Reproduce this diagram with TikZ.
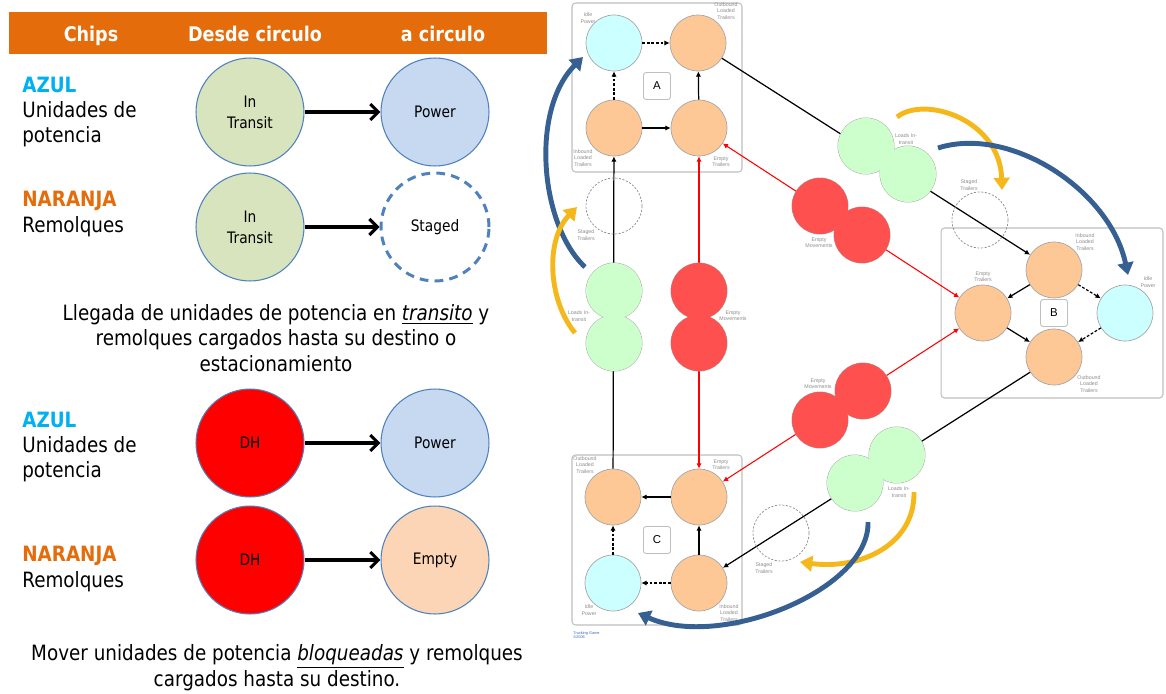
\documentclass[tikz,border=0pt]{standalone}
\usepackage{fontspec}
\setmainfont{DejaVu Sans}[FakeStretch=0.87]
\newfontfamily\tagfont{Liberation Sans}
\usetikzlibrary{arrows.meta}
\newcommand{\ulword}[1]{\smash{\underline{\textit{#1}}}}

\definecolor{hdrorange}{HTML}{E46C0A}
\definecolor{azul}{HTML}{00B0F0}
\definecolor{naranja}{HTML}{E46C0A}
\definecolor{transitgreen}{HTML}{D7E4BD}
\definecolor{powerblue}{HTML}{C6D9F1}
\definecolor{emptypeach}{HTML}{FBD5B5}
\definecolor{legendedge}{HTML}{4F81BD}
\definecolor{trailerorange}{HTML}{FDC896}
\definecolor{idlecyan}{HTML}{CCFFFF}
\definecolor{loadgreen}{HTML}{CCFFCC}
\definecolor{emptyred}{HTML}{FF5050}
\definecolor{nodeedge}{HTML}{A6A6A6}
\definecolor{framegray}{HTML}{BFBFBF}
\definecolor{taggray}{HTML}{8C8C8C}
\definecolor{curveblue}{HTML}{376092}
\definecolor{curveyellow}{HTML}{F5B81C}
\definecolor{creditblue}{HTML}{3366CC}

\begin{document}
\begin{tikzpicture}[x=0.02cm, y=-0.02cm,
    legendchip/.style={
      circle, draw=legendedge, line width=0.6pt, minimum size=2.16cm,
      inner sep=0pt, align=center, font=\fontsize{9}{12}\selectfont
    },
    stagedlegend/.style={
      legendchip, fill=white, line width=1.7pt, dash pattern=on 5pt off 3.5pt
    },
    legendmove/.style={-{Straight Barb[length=4.5pt,width=9pt]}, line width=1.8pt},
    rowtext/.style={anchor=west, align=left, inner sep=0pt, font=\fontsize{12}{14.5}\selectfont},
    notetext/.style={align=center, inner sep=0pt, font=\fontsize{12}{14.5}\selectfont},
    hdrtext/.style={anchor=base, text=white, font=\bfseries\fontsize{11.5}{13}\selectfont},
    trailer/.style={
      circle, draw=nodeedge, fill=trailerorange, line width=0.4pt,
      minimum size=1.12cm, inner sep=0pt
    },
    idle/.style={trailer, fill=idlecyan},
    staged/.style={
      circle, draw=taggray, line width=0.4pt, dash pattern=on 1.2pt off 0.9pt,
      minimum size=1.12cm, inner sep=0pt
    },
    chip/.style={circle, draw=nodeedge, line width=0.5pt, minimum size=1.12cm, inner sep=0pt},
    tag/.style={text=taggray, align=center, inner sep=0pt, font=\tagfont\fontsize{3}{3.6}\selectfont},
    boxframe/.style={draw=framegray, line width=0.6pt, rounded corners=2pt, inner sep=0pt},
    letter/.style={
      draw=framegray, fill=white, line width=0.5pt, rounded corners=1.5pt,
      minimum size=0.54cm, inner sep=0pt, font=\tagfont\fontsize{6.5}{7}\selectfont
    },
    flow/.style={-{Latex[length=3pt,width=3pt]}, line width=0.7pt},
    idleflow/.style={flow, dash pattern=on 1.6pt off 1pt},
    emptyflow/.style={{Latex[length=3pt,width=3pt]}-{Latex[length=3pt,width=3pt]}, red, line width=0.6pt},
    bigarrow/.style={line width=2.8pt, -{Triangle[length=7pt,width=9pt]}}
  ]
  \useasboundingbox (0,0) rectangle (1166,693);

  % header
  \fill[hdrorange] (9,12) rectangle (547,54);
  \node[hdrtext] (hdrChips) at (91,41) {Chips};
  \node[hdrtext] (hdrFrom) at (255,41) {Desde circulo};
  \node[hdrtext] (hdrTo) at (443,41) {a circulo};

  % arrivals in transit
  \node[rowtext] (rowPowerA) at (22,112) {\textcolor{azul}{\bfseries AZUL}\\Unidades de\\potencia};
  \node[rowtext] (rowTrailerA) at (22,214) {\textcolor{naranja}{\bfseries NARANJA}\\Remolques};
  \node[legendchip, fill=transitgreen] (lgTransitA) at (250,112) {In\\Transit};
  \node[legendchip, fill=powerblue] (lgPowerA) at (435,112) {Power};
  \node[legendchip, fill=transitgreen] (lgTransitB) at (250,227) {In\\Transit};
  \node[stagedlegend] (lgStaged) at (435,227) {Staged};
  \draw[legendmove] (lgTransitA) -- (lgPowerA);
  \draw[legendmove] (lgTransitB) -- (lgStaged);
  \node[notetext] (noteTransit) at (276,338)
    {Llegada de unidades de potencia en \ulword{transito} y\\
     remolques cargados hasta su destino o\\estacionamiento};

  % dead-head moves
  \node[rowtext] (rowPowerB) at (22,447) {\textcolor{azul}{\bfseries AZUL}\\Unidades de\\potencia};
  \node[rowtext] (rowTrailerB) at (22,569) {\textcolor{naranja}{\bfseries NARANJA}\\Remolques};
  \node[legendchip, fill=red] (lgDhA) at (250,443) {DH};
  \node[legendchip, fill=powerblue] (lgPowerB) at (435,443) {Power};
  \node[legendchip, fill=red] (lgDhB) at (250,560) {DH};
  \node[legendchip, fill=emptypeach] (lgEmpty) at (435,560) {Empty};
  \draw[legendmove] (lgDhA) -- (lgPowerB);
  \draw[legendmove] (lgDhB) -- (lgEmpty);
  \node[notetext] (noteBlocked) at (277,667.5)
    {Mover unidades de potencia \ulword{bloqueadas} y remolques\\
     cargados hasta su destino.};

  % terminals
  \node[boxframe, minimum width=3.4cm, minimum height=3.38cm] (frameA) at (657,87.5) {};
  \node[boxframe, minimum width=4.44cm, minimum height=3.4cm] (frameB) at (1052,313) {};
  \node[boxframe, minimum width=3.4cm, minimum height=3.4cm] (frameC) at (657,540) {};

  \node[idle] (idleA) at (614,43) {};
  \node[trailer] (outA) at (698,43) {};
  \node[trailer] (inA) at (614,128) {};
  \node[trailer] (emptyA) at (699,128) {};
  \node[letter] (letterA) at (657,86) {A};

  \node[trailer] (inB) at (1054,270) {};
  \node[trailer] (emptyB) at (983,313) {};
  \node[trailer] (outB) at (1054,357) {};
  \node[idle] (idleB) at (1125,313) {};
  \node[letter] (letterB) at (1054,313) {B};

  \node[trailer] (outC) at (613,497) {};
  \node[trailer] (emptyC) at (699,497) {};
  \node[idle] (idleC) at (613,583) {};
  \node[trailer] (inC) at (699,583) {};
  \node[letter] (letterC) at (657,540) {C};

  \draw[idleflow] (idleA) -- (outA);
  \draw[idleflow] (inA) -- (idleA);
  \draw[flow] (inA) -- (emptyA);
  \draw[flow] (emptyA) -- (outA);

  \draw[flow] (inB) -- (emptyB);
  \draw[flow] (emptyB) -- (outB);
  \draw[idleflow] (inB) -- (idleB);
  \draw[idleflow] (idleB) -- (outB);

  \draw[flow] (emptyC) -- (outC);
  \draw[flow] (inC) -- (emptyC);
  \draw[idleflow] (inC) -- (idleC);
  \draw[idleflow] (idleC) -- (outC);

  % moves between terminals
  \draw[flow] (outC) -- (inA);
  \draw[flow] (outA) -- (inB);
  \draw[flow] (outB) -- (inC);
  \draw[emptyflow] (emptyA) -- (emptyC);
  \draw[emptyflow] (emptyA) -- (emptyB);
  \draw[emptyflow] (emptyB) -- (emptyC);

  \node[staged] (stagedA) at (614,206) {};
  \node[staged] (stagedB) at (980,220) {};
  \node[staged] (stagedC) at (781,533) {};

  \foreach \n/\c/\p/\q in {loadsL/loadgreen/{614,291}/{614,343},
      emptyMvL/emptyred/{699,291}/{699,343},
      loadsT/loadgreen/{866,146}/{908,174},
      emptyMvT/emptyred/{820,206}/{862,235},
      emptyMvB/emptyred/{863,391}/{820,420},
      loadsB/loadgreen/{897,455}/{855,483}} {
    \node[chip, fill=\c] (\n1) at (\p) {};
    \node[chip, fill=\c] (\n2) at (\q) {};
    \fill[\c] (\n1.center) circle (0.56cm) (\n2.center) circle (0.56cm);
  }

  % labels
  \node[tag] (tagIdleA) at (588,18) {Idle\\Power};
  \node[tag] (tagOutA) at (726,11) {Outbound\\Loaded\\Trailers};
  \node[tag] (tagInA) at (583,158) {Inbound\\Loaded\\Trailers};
  \node[tag] (tagEmptyA) at (721,162) {Empty\\Trailers};
  \node[tag] (tagInB) at (1085,242) {Inbound\\Loaded\\Trailers};
  \node[tag] (tagEmptyB) at (983,277) {Empty\\Trailers};
  \node[tag] (tagIdleB) at (1148,282) {Idle\\Power};
  \node[tag] (tagOutB) at (1089,384) {Outbound\\Loaded\\Trailers};
  \node[tag] (tagOutC) at (585,465) {Outbound\\Loaded\\Trailers};
  \node[tag] (tagEmptyC) at (721,465) {Empty\\Trailers};
  \node[tag] (tagIdleC) at (589,610) {Idle\\Power};
  \node[tag] (tagInC) at (729,613) {Inbound\\Loaded\\Trailers};
  \node[tag] (tagStagedA) at (586,235) {Staged\\Trailers};
  \node[tag] (tagStagedB) at (969,185) {Staged\\Trailers};
  \node[tag] (tagStagedC) at (764,568) {Staged\\Trailers};
  \node[tag] (tagLoadsL) at (579,316) {Loads In-\\transit};
  \node[tag] (tagEmptyMvL) at (733,316) {Empty\\Movements};
  \node[tag] (tagLoadsT) at (906,139) {Loads In-\\transit};
  \node[tag] (tagEmptyMvT) at (819,243) {Empty\\Movements};
  \node[tag] (tagEmptyMvB) at (818,384) {Empty\\Movements};
  \node[tag] (tagLoadsB) at (899,492) {Loads In-\\transit};
  \node[anchor=west, align=left, inner sep=0pt, text=creditblue,
    font=\tagfont\fontsize{2.2}{2.6}\selectfont] (credit) at (573,635) {Trucking Game\\©2006};

  % arrivals
  \coordinate (blueLfrom) at (585,267);
  \coordinate (blueLto) at (583,57);
  \coordinate (yellowLfrom) at (575,333);
  \coordinate (yellowLto) at (577,207);
  \coordinate (yellowTfrom) at (897,117);
  \coordinate (yellowTto) at (1002,190);
  \coordinate (blueTfrom) at (938,148);
  \coordinate (blueTto) at (1128,275);
  \coordinate (yellowBfrom) at (914,492);
  \coordinate (yellowBto) at (800,562);
  \coordinate (blueBfrom) at (868,522);
  \coordinate (blueBto) at (638,613);
  \draw[bigarrow, curveblue] (blueLfrom) .. controls (540,225) and (530,110) .. (blueLto);
  \draw[bigarrow, curveyellow] (yellowLfrom) .. controls (548,300) and (545,240) .. (yellowLto);
  \draw[bigarrow, curveyellow] (yellowTfrom) .. controls (925,95) and (1000,120) .. (yellowTto);
  \draw[bigarrow, curveblue] (blueTfrom) .. controls (1010,125) and (1110,190) .. (blueTto);
  \draw[bigarrow, curveyellow] (yellowBfrom) .. controls (915,545) and (860,570) .. (yellowBto);
  \draw[bigarrow, curveblue] (blueBfrom) .. controls (870,590) and (720,650) .. (blueBto);
\end{tikzpicture}
\end{document}
